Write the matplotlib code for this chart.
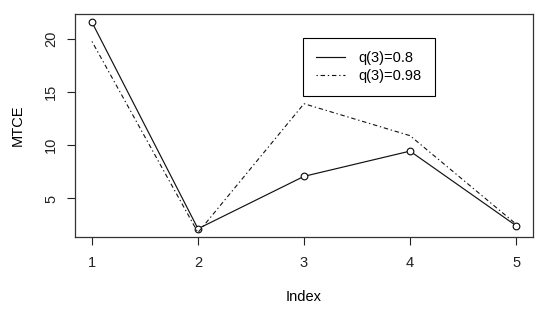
import matplotlib
matplotlib.use("Agg")
import matplotlib.pyplot as plt
from matplotlib.lines import Line2D

index = [1, 2, 3, 4, 5]
mtce_08 = [21.55, 2.16, 7.08, 9.45, 2.45]
mtce_098 = [19.75, 1.8, 13.9, 10.9, 2.6]
labels = ["q(3)=0.8", "q(3)=0.98"]

plt.rcParams['font.family'] = ['Liberation Sans', 'DejaVu Sans']
fig = plt.figure(figsize=(5.5, 3.17), dpi=100)
ax = fig.add_axes([75/550, 1-237/317, 458/550, 223/317])

dd = (1.2, 2.5, 4, 2.5)
ax.plot(index, mtce_08, color='#111111', lw=0.85, marker='o', ms=4.8,
        mfc='white', mec='#111111', mew=0.85)
ax.plot(index, mtce_098, color='#111111', lw=0.8, dashes=dd)

lo, hi = min(mtce_08), max(mtce_08)
r = hi - lo
ax.set_ylim(lo - 0.04*r, hi + 0.04*r)
ax.set_xlim(1 - 0.04*4, 5 + 0.04*4)

ax.set_xticks(index)
ax.set_yticks([5, 10, 15, 20])
for lab in ax.get_yticklabels():
    lab.set_rotation(90)
    lab.set_va('center')
ax.tick_params(direction='out', length=6, width=0.8, labelsize=10.5, colors='#222222', pad=6)
ax.tick_params(axis='x', pad=8)
for s in ax.spines.values():
    s.set_color('#333333')
    s.set_linewidth(0.9)

ax.set_xlabel("Index", fontsize=10.5, labelpad=14)
ax.set_ylabel("MTCE", fontsize=10.5, labelpad=14)

handles = [Line2D([], [], color='#111111', lw=0.85),
           Line2D([], [], color='#111111', lw=0.8, dashes=dd)]
leg = ax.legend(handles, labels, loc='upper left', bbox_to_anchor=(0.498, 0.892), borderaxespad=0,
                fancybox=False, edgecolor='black', framealpha=1, fontsize=10.5,
                handlelength=2.0, handletextpad=0.9, labelspacing=0.25,
                borderpad=0.9)
leg.get_frame().set_linewidth(0.8)

fig.savefig("out.png", dpi=100)
